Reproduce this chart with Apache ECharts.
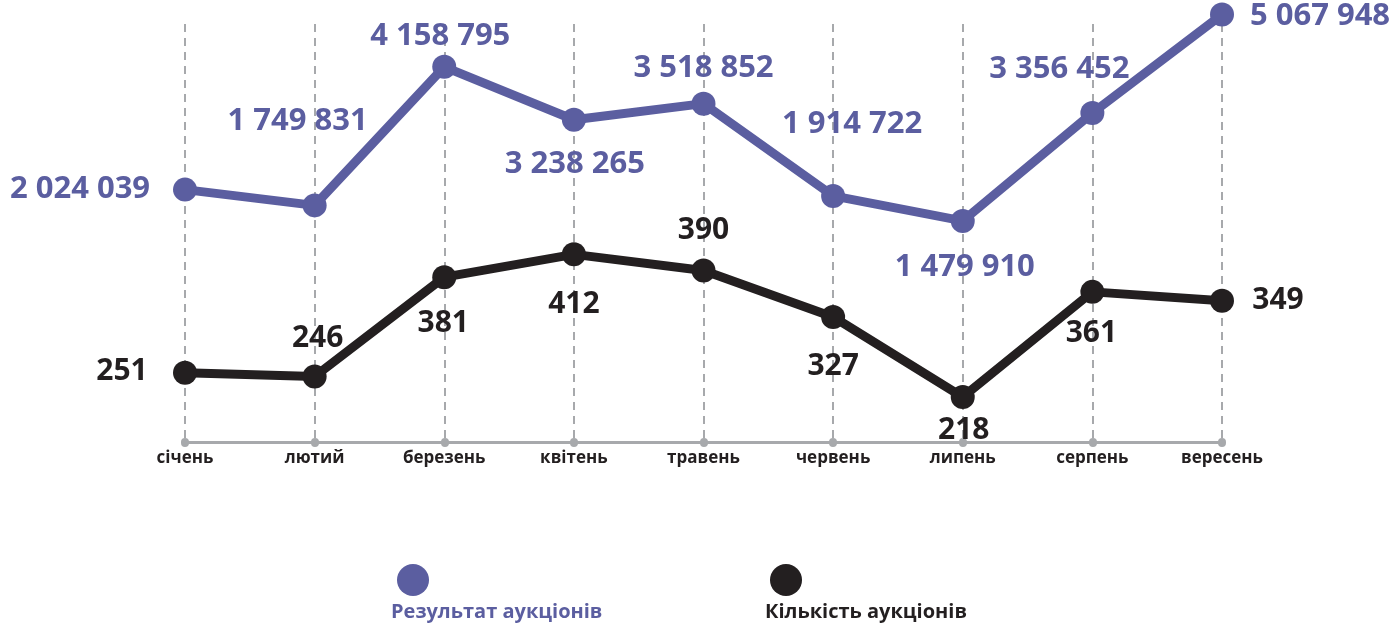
<!DOCTYPE html>
<html>
<head>
<meta charset="utf-8">
<script src="https://cdn.jsdelivr.net/npm/echarts@6/dist/echarts.min.js"></script>
<style>
  html, body { margin: 0; padding: 0; background: #fff; }
  #main { width: 1393px; height: 627px; }
</style>
</head>
<body>
<div id="main"></div>
<script>
var months = ['січень', 'лютий', 'березень', 'квітень', 'травень', 'червень', 'липень', 'серпень', 'вересень'];
var result = [2024039, 1749831, 4158795, 3238265, 3518852, 1914722, 1479910, 3356452, 5067948];
var count = [251, 246, 381, 412, 390, 327, 218, 361, 349];

// where each value label sits relative to its point
var resultLabelOffset = [[-105, 0], [-17, -84], [-4, -31], [1, 44], [0, -35], [19, -72], [2, 46], [-33, -44], [98, 2]];
var countLabelOffset = [[-63, -1], [3, -38], [-1, 46], [0, 50], [0, -40], [0, 50], [1, 33], [-1, 42], [56, 0]];

var purple = '#5b5ea0';
var black = '#231f20';
var grey = '#a7a9ac';

function fmt(v) {
	return String(v).replace(/\B(?=(\d{3})+(?!\d))/g, ' ');
}

function withLabels(values, offsets) {
	return values.map(function(v, i) {
		return { value: v, label: { offset: offsets[i] } };
	});
}

var myChart = echarts.init(document.getElementById('main'));

var option = {
	animation: false,
	grid: { left: 185, right: 171, top: 24, bottom: 185 },
	legend: [
		{
			data: ['Результат аукціонів'],
			left: 392, top: 559,
			icon: 'circle', itemWidth: 32, itemHeight: 32,
			formatter: function() { return ''; },
			selectedMode: false
		},
		{
			data: ['Кількість аукціонів'],
			left: 765, top: 559,
			icon: 'circle', itemWidth: 32, itemHeight: 32,
			formatter: function() { return ''; },
			selectedMode: false
		}
	],
	graphic: [
		{ type: 'text', left: 391, top: 602, style: { text: 'Результат аукціонів', fill: purple, font: 'bold 20px "Open Sans"' } },
		{ type: 'text', left: 765, top: 602, style: { text: 'Кількість аукціонів', fill: black, font: 'bold 20px "Open Sans"' } }
	],
	xAxis: {
		type: 'category',
		data: months,
		boundaryGap: false,
		axisLine: { onZero: false, lineStyle: { color: grey, width: 3 } },
		axisTick: { show: true, length: 1, lineStyle: { color: grey, width: 8, cap: 'round' } },
		axisLabel: { color: black, fontFamily: 'Open Sans', fontWeight: 'bold', fontSize: 17, margin: 8 },
		splitLine: { show: true, lineStyle: { color: grey, width: 2, type: [8, 6] } }
	},
	yAxis: [
		{ type: 'value', min: -2365000, max: 4904000, show: false, splitLine: { show: false } },
		{ type: 'value', min: 157, max: 725, show: false, splitLine: { show: false } }
	],
	series: [
		{
			name: 'Результат аукціонів',
			type: 'line',
			yAxisIndex: 0,
			clip: false,
			data: withLabels(result, resultLabelOffset),
			symbol: 'circle',
			symbolSize: 24,
			itemStyle: { color: purple },
			lineStyle: { color: purple, width: 9 },
			label: {
				show: true, position: 'inside',
				color: purple, fontFamily: 'Open Sans', fontWeight: 'bold', fontSize: 31,
				formatter: function(p) { return fmt(p.value); }
			}
		},
		{
			name: 'Кількість аукціонів',
			type: 'line',
			yAxisIndex: 1,
			clip: false,
			data: withLabels(count, countLabelOffset),
			symbol: 'circle',
			symbolSize: 24,
			itemStyle: { color: black },
			lineStyle: { color: black, width: 9 },
			label: {
				show: true, position: 'inside',
				color: black, fontFamily: 'Open Sans', fontWeight: 'bold', fontSize: 30,
				formatter: function(p) { return fmt(p.value); }
			}
		}
	]
};

myChart.setOption(option);
</script>
</body>
</html>
